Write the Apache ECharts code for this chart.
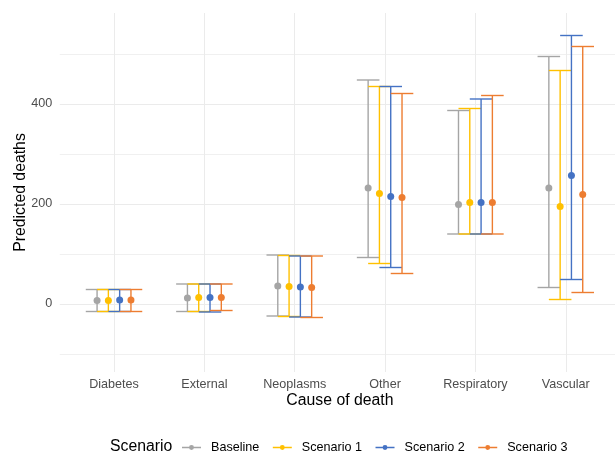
<!DOCTYPE html>
<html>
<head>
<meta charset="utf-8">
<script src="https://cdn.jsdelivr.net/npm/echarts@6/dist/echarts.min.js"></script>
<style>
  html, body { margin: 0; padding: 0; background: #fff; }
  #chart { width: 615px; height: 455px; }
</style>
</head>
<body>
<div id="chart"></div>
<script>
  const categories = ['Diabetes', 'External', 'Neoplasms', 'Other', 'Respiratory', 'Vascular'];
  const scenarios = ['Baseline', 'Scenario 1', 'Scenario 2', 'Scenario 3'];
  const colors = ['#A5A5A5', '#FFC000', '#4472C4', '#ED7D31'];

  // predicted deaths: point estimate, lower and upper bound
  const baselineMid = [7, 12, 36, 232, 199, 232];
  const baselineLow = [-15, -15, -24, 93, 140, 33];
  const baselineHigh = [29, 40, 98, 448, 387, 495];
  const scenario1Mid = [7, 13, 35, 221, 203, 195];
  const scenario1Low = [-15, -15, -25, 81, 140, 9];
  const scenario1High = [29, 40, 97, 435, 391, 467];
  const scenario2Mid = [8, 13, 34, 215, 203, 257];
  const scenario2Low = [-15, -16, -26, 73, 140, 49];
  const scenario2High = [29, 40, 96, 435, 410, 537];
  const scenario3Mid = [8, 13, 33, 213, 203, 219];
  const scenario3Low = [-15, -13, -27, 61, 140, 23];
  const scenario3High = [29, 40, 96, 421, 417, 515];

  const yTickLabels = [0, 200, 400];

  const mids = [baselineMid, scenario1Mid, scenario2Mid, scenario3Mid];
  const lows = [baselineLow, scenario1Low, scenario2Low, scenario3Low];
  const highs = [baselineHigh, scenario1High, scenario2High, scenario3High];

  const dodge = 0.5;     // dodge width in category units
  const capHalf = 0.125; // half width of the error bar caps
  const font = '"Liberation Sans", Arial, sans-serif';

  function offsetOf(k) {
    return -dodge / 2 + dodge / scenarios.length * (k + 0.5);
  }

  const legendIcon = 'path://M0,2.8 H20 V4.2 H0 Z M12.6,3.5 A2.6,2.6 0 1 1 7.4,3.5 A2.6,2.6 0 1 1 12.6,3.5 Z';

  const series = [];
  scenarios.forEach(function (name, k) {
    const color = colors[k];
    series.push({
      name: name,
      type: 'custom',
      itemStyle: {color: color},
      data: categories.map(function (c, i) {
        return [i + 1 + offsetOf(k), lows[k][i], highs[k][i]];
      }),
      encode: {x: 0, y: [1, 2]},
      z: 2,
      renderItem: function (params, api) {
        const x = api.value(0);
        const top = api.coord([x, api.value(2)]);
        const bot = api.coord([x, api.value(1)]);
        const half = api.size([capHalf, 0])[0];
        const style = {stroke: color, lineWidth: 1.4, fill: null};
        return {
          type: 'group',
          children: [
            {type: 'line', shape: {x1: top[0], y1: top[1], x2: bot[0], y2: bot[1]}, style: style},
            {type: 'line', shape: {x1: top[0] - half, y1: top[1], x2: top[0] + half, y2: top[1]}, style: style},
            {type: 'line', shape: {x1: bot[0] - half, y1: bot[1], x2: bot[0] + half, y2: bot[1]}, style: style}
          ]
        };
      }
    });
  });
  scenarios.forEach(function (name, k) {
    series.push({
      name: name,
      type: 'scatter',
      symbol: 'circle',
      symbolSize: 7,
      itemStyle: {color: colors[k], opacity: 1},
      z: 5,
      data: categories.map(function (c, i) {
        return [i + 1 + offsetOf(k), mids[k][i]];
      })
    });
  });

  const option = {
    animation: false,
    color: colors,
    grid: {
      left: 59.8,
      right: -5,
      top: 13,
      bottom: 83,
      containLabel: false,
      outerBoundsMode: 'none'
    },
    xAxis: {
      type: 'value',
      min: 0.4,
      max: 6.6,
      name: 'Cause of death',
      nameLocation: 'middle',
      nameGap: 21,
      nameMoveOverlap: false,
      nameTextStyle: {color: '#000', fontSize: 15.8, fontFamily: font},
      axisLine: {show: false},
      axisTick: {show: false},
      axisLabel: {
        color: '#4D4D4D',
        fontSize: 12.6,
        fontFamily: font,
        margin: 6.5,
        showMinLabel: false,
        showMaxLabel: false,
        formatter: function (v) {
          return Number.isInteger(v) && v >= 1 && v <= categories.length ? categories[v - 1] : '';
        }
      },
      splitLine: {
        show: true,
        showMinLine: false,
        showMaxLine: false,
        lineStyle: {color: '#EBEBEB', width: 1}
      }
    },
    yAxis: {
      type: 'value',
      min: -136,
      max: 582,
      name: 'Predicted deaths',
      nameLocation: 'middle',
      nameGap: 31.5,
      nameMoveOverlap: false,
      nameTextStyle: {color: '#000', fontSize: 15.8, fontFamily: font},
      axisLine: {show: false},
      axisTick: {show: false},
      axisLabel: {
        color: '#4D4D4D',
        fontSize: 12.6,
        fontFamily: font,
        margin: 7.5,
        showMinLabel: false,
        showMaxLabel: false,
        formatter: function (v) {
          return yTickLabels.indexOf(v) >= 0 ? String(v) : '';
        }
      },
      splitLine: {
        show: true,
        showMinLine: false,
        showMaxLine: false,
        lineStyle: {color: ['#F0F0F0', '#EBEBEB'], width: 1}
      }
    },
    legend: {
      left: 177,
      top: 436,
      itemWidth: 19,
      itemHeight: 5,
      itemGap: 13.5,
      data: scenarios.map(function (name) {
        return {name: name, icon: legendIcon};
      }),
      textStyle: {color: '#000', fontSize: 12.6, fontFamily: font, padding: [0, 0, 0, 5]}
    },
    graphic: [{
      type: 'text',
      left: 110,
      top: 439,
      style: {text: 'Scenario', fill: '#000', font: '15.8px ' + font}
    }],
    series: series
  };

  const chart = echarts.init(document.getElementById('chart'));
  chart.setOption(option);
</script>
</body>
</html>
